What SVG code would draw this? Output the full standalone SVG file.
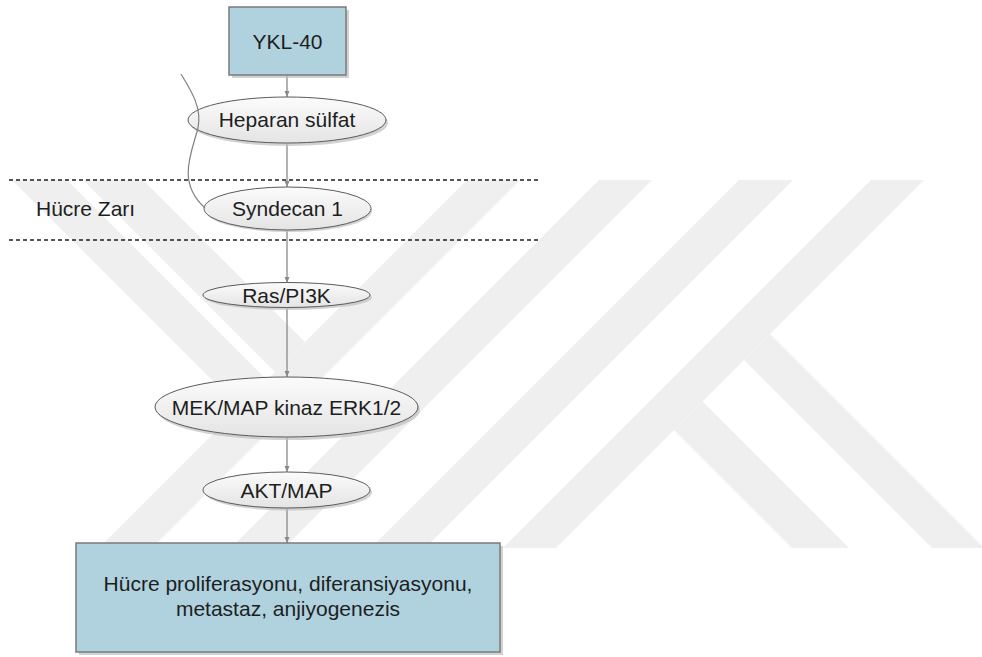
<svg xmlns="http://www.w3.org/2000/svg" width="982" height="657" viewBox="0 0 982 657">
  <defs>
    <linearGradient id="ellFill" x1="0" y1="0" x2="0" y2="1">
      <stop offset="0" stop-color="#fbfbfb"/>
      <stop offset="1" stop-color="#e4e4e4"/>
    </linearGradient>
    <marker id="arr" viewBox="0 0 6 6" refX="6" refY="3" markerWidth="6" markerHeight="6" markerUnits="userSpaceOnUse" orient="auto">
      <path d="M0,0.5 L6,3 L0,5.5 Z" fill="#8a8a8a"/>
    </marker>
    <style>
      text { font-family: "Liberation Sans", Arial, sans-serif; font-size: 21px; fill: #1e1e1e; }
      .c { text-anchor: middle; }
      .box { fill: #afd2de; stroke: #7a7a7a; stroke-width: 1.5; }
      .shadow { fill: #bfbfbf; opacity: 0.7; }
      .ell { fill: url(#ellFill); stroke: #5a5a5a; stroke-width: 1; }
      .conn { stroke: #808080; stroke-width: 1.2; fill: none; }
      .dash { stroke: #1e1e1e; stroke-width: 1.5; stroke-dasharray: 4 3; fill: none; }
      .wm { fill: #efefef; }
    </style>
  </defs>
  <rect width="982" height="657" fill="#ffffff"/>

  <g id="watermark">
    <polygon class="wm" points="467,180 520,180 152,548 99,548"/>
    <polygon class="wm" points="599,180 652,180 284,548 231,548"/>
    <polygon class="wm" points="739,180 793,180 425,548 371,548"/>
    <polygon class="wm" points="871,180 924,180 556,548 503,548"/>
    <polygon class="wm" points="12,180 67,180 267,380 239.5,407.5"/>
    <polygon class="wm" points="83,180 143,180 305,342 275,372"/>
    <polygon class="wm" points="674,430 702.5,401.5 849,548 792,548"/>
    <polygon class="wm" points="744,360 770,334 984,548 932,548"/>
  </g>

  <g id="membrane">
    <line class="dash" x1="9" y1="180" x2="541" y2="180"/>
    <line class="dash" x1="9" y1="240" x2="541" y2="240"/>
    <text x="36" y="216">Hücre Zarı</text>
  </g>

  <g id="connectors">
    <line class="conn" x1="287" y1="75" x2="287" y2="97" marker-end="url(#arr)"/>
    <line class="conn" x1="287" y1="144" x2="287" y2="187" marker-end="url(#arr)"/>
    <line class="conn" x1="287" y1="230" x2="287" y2="283" marker-end="url(#arr)"/>
    <line class="conn" x1="287" y1="308" x2="287" y2="377" marker-end="url(#arr)"/>
    <line class="conn" x1="287" y1="437" x2="287" y2="472" marker-end="url(#arr)"/>
    <line class="conn" x1="287" y1="508" x2="287" y2="543" marker-end="url(#arr)"/>
  </g>

  <g id="ykl40">
    <rect class="shadow" x="232" y="10" width="117" height="68"/>
    <rect class="box" x="229" y="7" width="117" height="68"/>
    <text class="c" x="287.5" y="48.5">YKL-40</text>
  </g>

  <g id="heparan">
    <ellipse class="shadow" cx="289" cy="123" rx="99" ry="23"/>
    <ellipse class="ell" cx="287" cy="120" rx="99" ry="23"/>
    <text class="c" x="287" y="127">Heparan sülfat</text>
  </g>

  <g id="syndecan">
    <ellipse class="shadow" cx="289" cy="211" rx="83" ry="21"/>
    <ellipse class="ell" cx="287.5" cy="208.5" rx="83.5" ry="21.5"/>
    <text class="c" x="287.5" y="216">Syndecan 1</text>
  </g>

  <g id="curve">
    <path class="conn" d="M181,74 C192,92 202,108 198,128 C192,152 176,182 205,208" stroke="#6a6a6a"/>
  </g>

  <g id="ras">
    <ellipse class="shadow" cx="288.5" cy="297.5" rx="83.5" ry="12.5"/>
    <ellipse class="ell" cx="286.5" cy="295" rx="83.5" ry="12.5"/>
    <text class="c" x="286.5" y="302.5">Ras/PI3K</text>
  </g>

  <g id="mek">
    <ellipse class="shadow" cx="288.5" cy="410" rx="131.5" ry="30"/>
    <ellipse class="ell" cx="286.5" cy="407" rx="131.5" ry="30"/>
    <text class="c" x="286.5" y="414.5">MEK/MAP kinaz ERK1/2</text>
  </g>

  <g id="akt">
    <ellipse class="shadow" cx="288.5" cy="492.5" rx="83.5" ry="18"/>
    <ellipse class="ell" cx="286.5" cy="490" rx="83.5" ry="18"/>
    <text class="c" x="286.5" y="497.5">AKT/MAP</text>
  </g>

  <g id="outcome">
    <rect class="shadow" x="79" y="546" width="424" height="109"/>
    <rect class="box" x="76" y="543" width="424" height="109"/>
    <text class="c" x="288" y="590.5">Hücre proliferasyonu, diferansiyasyonu,</text>
    <text class="c" x="288" y="615.5">metastaz, anjiyogenezis</text>
  </g>
</svg>
